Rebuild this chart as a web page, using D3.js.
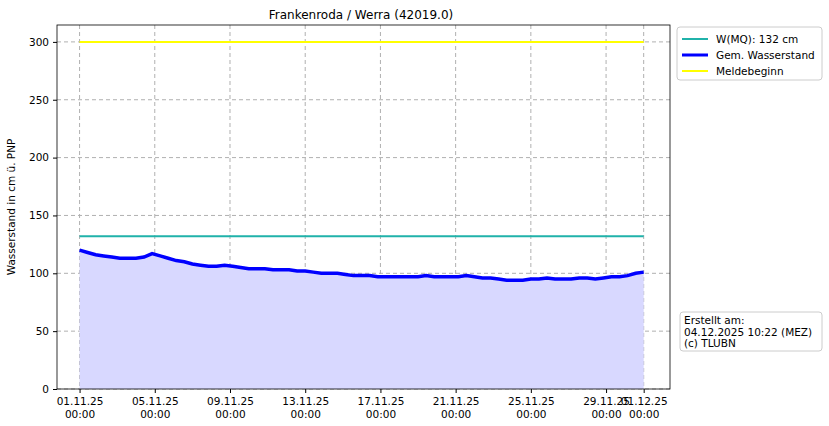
<!DOCTYPE html>
<html><head><meta charset="utf-8">
<script src="https://cdn.jsdelivr.net/npm/d3@7"></script>
<style>body{margin:0;background:#fff}text{font-family:"DejaVu Sans",sans-serif}</style>
</head><body><svg width="829" height="426"></svg>
<script>
// half-day readings from 01.11.25 00:00 to 01.12.25 00:00
const levels = [120,118,116,115,114,113,113,113,114,117,115,113,111,110,108,107,106,106,107,106,105,104,104,104,103,103,103,102,102,101,100,100,100,99,98,98,98,97,97,97,97,97,97,98,97,97,97,97,98,97,96,96,95,94,94,94,95,95,96,95,95,95,96,96,95,96,97,97,98,100,101];
const tickLabels = ["01.11.25","05.11.25","09.11.25","13.11.25","17.11.25","21.11.25","25.11.25","29.11.25","01.12.25"];
const tickDays = [0,4,8,12,16,20,24,28,30];
const mq = 132, melde = 300;
const legendLabels = ["W(MQ): 132 cm","Gem. Wasserstand","Meldebeginn"];

const svg = d3.select("svg");
const m = {l:57, r:670, t:25, b:389};
const step = 30 / (levels.length - 1);
const pts = levels.map((v, i) => [i * step, v]);

const x = d3.scaleLinear().domain([-1.2, 31.4]).range([m.l, m.r]);
const y = d3.scaleLinear().domain([0, 314.6]).range([m.b, m.t]);

// grid
svg.append("g").selectAll("line").data(tickDays).join("line")
  .attr("x1", d => x(d)).attr("x2", d => x(d)).attr("y1", m.t).attr("y2", m.b)
  .attr("stroke", "#b0b0b0").attr("stroke-dasharray", "4,3");
svg.append("g").selectAll("line").data(d3.range(0, 301, 50)).join("line")
  .attr("x1", m.l).attr("x2", m.r).attr("y1", d => y(d)).attr("y2", d => y(d))
  .attr("stroke", "#b0b0b0").attr("stroke-dasharray", "4,3");

// area + lines
svg.append("path").datum(pts).attr("fill", "#d8d8ff")
  .attr("d", d3.area().x(d => x(d[0])).y0(y(0)).y1(d => y(d[1])));
svg.append("line").attr("x1", x(0)).attr("x2", x(30)).attr("y1", y(melde)).attr("y2", y(melde))
  .attr("stroke", "#ffff00").attr("stroke-width", 2);
svg.append("line").attr("x1", x(0)).attr("x2", x(30)).attr("y1", y(mq)).attr("y2", y(mq))
  .attr("stroke", "#20b2aa").attr("stroke-width", 2);
svg.append("path").datum(pts).attr("fill", "none").attr("stroke", "#0000ff").attr("stroke-width", 3.5)
  .attr("d", d3.line().x(d => x(d[0])).y(d => y(d[1])));

// frame
svg.append("rect").attr("x", m.l).attr("y", m.t).attr("width", m.r - m.l).attr("height", m.b - m.t)
  .attr("fill", "none").attr("stroke", "#000").attr("stroke-width", 0.8);

// axes
const ya = svg.append("g").attr("transform", `translate(${m.l},0)`)
  .call(d3.axisLeft(y).tickValues(d3.range(0, 301, 50)).tickSize(4).tickPadding(4));
ya.select(".domain").remove();
ya.selectAll("text").attr("font-size", 10.5).attr("fill", "#000");
const xa = svg.append("g").attr("transform", `translate(0,${m.b})`)
  .call(d3.axisBottom(x).tickValues(tickDays).tickSize(4).tickFormat(""));
xa.select(".domain").remove();
xa.selectAll(".tick").each(function(d, i) {
  const t = d3.select(this).append("text").attr("fill", "#000").attr("font-size", 10.5).attr("text-anchor", "middle");
  t.append("tspan").attr("x", 0).attr("y", 16).text(tickLabels[i]);
  t.append("tspan").attr("x", 0).attr("y", 29).text("00:00");
});

svg.append("text").attr("x", 361).attr("y", 19).attr("text-anchor", "middle").attr("font-size", 12)
  .text("Frankenroda / Werra (42019.0)");
svg.append("text").attr("transform", `translate(15,${(m.t + m.b) / 2}) rotate(-90)`)
  .attr("text-anchor", "middle").attr("font-size", 10.5).text("Wasserstand in cm ü. PNP");

// legend
const lg = svg.append("g").attr("transform", "translate(677,27)");
lg.append("rect").attr("width", 145).attr("height", 53).attr("rx", 3)
  .attr("fill", "#fff").attr("stroke", "#ccc");
const lc = ["#20b2aa", "#0000ff", "#ffff00"], lw = [2, 3, 2];
legendLabels.forEach((s, i) => {
  const yy = 12 + i * 16;
  lg.append("line").attr("x1", 5).attr("x2", 31).attr("y1", yy).attr("y2", yy)
    .attr("stroke", lc[i]).attr("stroke-width", lw[i]);
  lg.append("text").attr("x", 39).attr("y", yy + 4).attr("font-size", 10.5).text(s);
});

// info box
const ib = svg.append("g").attr("transform", "translate(680,312)");
ib.append("rect").attr("width", 142).attr("height", 39).attr("rx", 3)
  .attr("fill", "#fff").attr("stroke", "#ccc");
["Erstellt am:", "04.12.2025 10:22 (MEZ)", "(c) TLUBN"].forEach((s, i) =>
  ib.append("text").attr("x", 4).attr("y", 12 + i * 11.5).attr("font-size", 10.5).text(s));
</script></body></html>
